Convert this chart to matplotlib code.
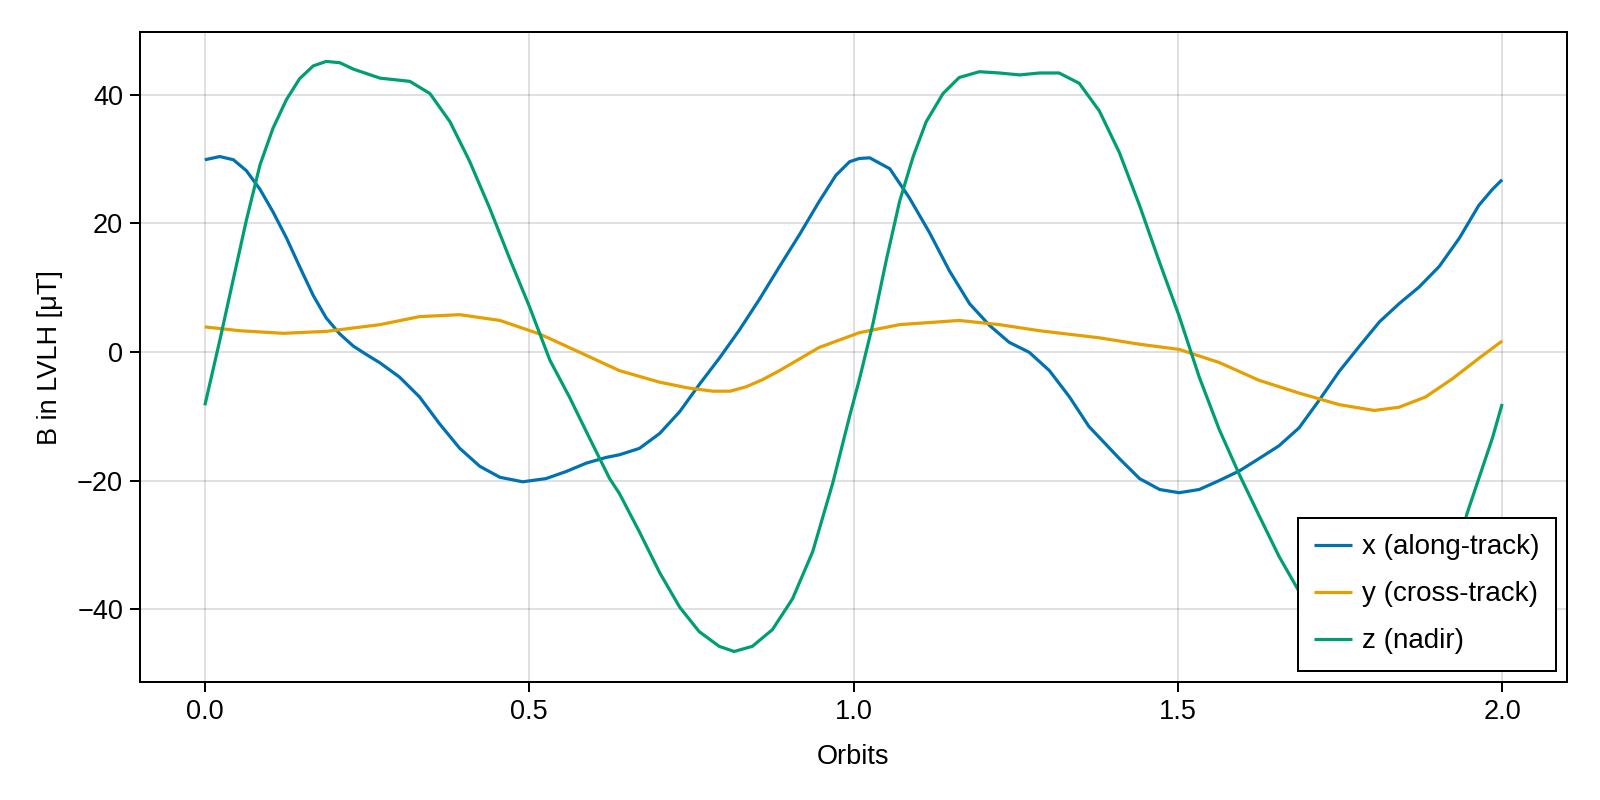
import matplotlib.pyplot as plt

plt.rcParams['font.family'] = ['Liberation Sans', 'DejaVu Sans']

# Field components (orbits, microtesla)
x_orbit = [0.0, 0.023, 0.044, 0.064, 0.085, 0.105, 0.126, 0.146, 0.167, 0.187, 0.208,
           0.229, 0.249, 0.27, 0.3, 0.331, 0.362, 0.393, 0.424, 0.455, 0.49, 0.526,
           0.557, 0.588, 0.619, 0.639, 0.67, 0.701, 0.732, 0.762, 0.793, 0.824, 0.855,
           0.886, 0.917, 0.947, 0.973, 0.994, 1.009, 1.025, 1.056, 1.086, 1.117, 1.148,
           1.179, 1.21, 1.24, 1.271, 1.302, 1.333, 1.363, 1.379, 1.41, 1.441, 1.472,
           1.502, 1.533, 1.564, 1.595, 1.625, 1.656, 1.687, 1.718, 1.749, 1.78, 1.811,
           1.841, 1.872, 1.903, 1.934, 1.964, 1.985, 2.0]
x_field = [29.9, 30.4, 29.9, 28.2, 25.3, 21.8, 17.7, 13.3, 8.8, 5.3, 2.8,
           0.9, -0.4, -1.7, -3.9, -7.0, -11.2, -15.0, -17.8, -19.5, -20.2, -19.7,
           -18.6, -17.3, -16.4, -16.0, -15.0, -12.7, -9.3, -5.1, -1.0, 3.4, 8.2,
           13.3, 18.3, 23.4, 27.5, 29.6, 30.1, 30.2, 28.5, 24.0, 18.6, 12.6,
           7.5, 4.1, 1.5, -0.06, -2.9, -7.0, -11.6, -13.3, -16.6, -19.7, -21.4,
           -21.9, -21.4, -20.0, -18.5, -16.6, -14.6, -11.8, -7.5, -3.0, 0.9, 4.7,
           7.5, 10.1, 13.3, 17.7, 22.8, 25.3, 26.8]

y_orbit = [0.0, 0.054, 0.121, 0.187, 0.27, 0.331, 0.393, 0.455, 0.516, 0.578, 0.639,
           0.701, 0.745, 0.783, 0.81, 0.835, 0.86, 0.886, 0.947, 1.009, 1.071, 1.163,
           1.225, 1.287, 1.379, 1.441, 1.502, 1.564, 1.625, 1.687, 1.749, 1.803, 1.841,
           1.882, 1.923, 1.964, 2.0]
y_field = [3.9, 3.3, 2.9, 3.2, 4.25, 5.5, 5.8, 4.9, 2.8, -0.06, -2.9,
           -4.7, -5.6, -6.1, -6.1, -5.4, -4.3, -2.9, 0.7, 3.0, 4.25, 4.9,
           4.25, 3.3, 2.2, 1.2, 0.4, -1.65, -4.4, -6.4, -8.2, -9.1, -8.6,
           -7.0, -4.2, -1.0, 1.7]

z_orbit = [0.0, 0.023, 0.044, 0.064, 0.085, 0.105, 0.126, 0.146, 0.167, 0.187, 0.208,
           0.229, 0.27, 0.316, 0.347, 0.378, 0.408, 0.439, 0.47, 0.501, 0.532, 0.562,
           0.593, 0.624, 0.639, 0.67, 0.701, 0.732, 0.762, 0.793, 0.816, 0.844, 0.875,
           0.906, 0.937, 0.968, 0.994, 1.009, 1.03, 1.051, 1.071, 1.092, 1.112, 1.138,
           1.163, 1.194, 1.225, 1.256, 1.287, 1.317, 1.348, 1.379, 1.41, 1.441, 1.472,
           1.502, 1.533, 1.564, 1.595, 1.625, 1.656, 1.69, 1.72, 1.75, 1.78, 1.81,
           1.84, 1.87, 1.9, 1.93, 1.946, 1.964, 1.985, 2.0]
z_field = [-8.3, 1.8, 11.4, 20.5, 29.1, 34.8, 39.3, 42.5, 44.5, 45.2, 45.0,
           44.0, 42.6, 42.1, 40.2, 35.8, 29.7, 22.4, 14.5, 6.9, -1.3, -7.0,
           -13.4, -19.7, -22.0, -28.0, -34.3, -39.7, -43.5, -45.8, -46.6, -45.8, -43.2,
           -38.4, -31.1, -20.4, -10.0, -4.3, 4.4, 14.5, 23.4, 30.4, 35.8, 40.2,
           42.7, 43.6, 43.4, 43.1, 43.4, 43.4, 41.8, 37.5, 31.0, 22.8, 13.9,
           5.6, -3.9, -12.1, -19.1, -25.4, -31.8, -37.8, -41.8, -44.5, -46.0, -46.6,
           -46.0, -43.2, -38.4, -31.4, -25.1, -19.7, -13.4, -8.1]

labels = ['x (along-track)', 'y (cross-track)', 'z (nadir)']
colors = ['#0072B2', '#E69F00', '#009E73']

fs = 19.5

fig = plt.figure(figsize=(16, 8), dpi=100)
ax = fig.add_axes([140 / 1600, 1 - 681.7 / 800, 1427 / 1600, 649.2 / 800])

for xs, ys, lab, col in zip([x_orbit, y_orbit, z_orbit], [x_field, y_field, z_field], labels, colors):
    ax.plot(xs, ys, color=col, lw=2.3, label=lab, solid_joinstyle='round', solid_capstyle='butt')

ax.set_xlim(-0.1, 2.1)
ax.set_ylim(-51.3, 49.7)
ax.set_xticks([0.0, 0.5, 1.0, 1.5, 2.0])
ax.set_xticklabels(['0.0', '0.5', '1.0', '1.5', '2.0'])
ax.set_yticks([-40, -20, 0, 20, 40])
ax.set_yticklabels(['\u221240', '\u221220', '0', '20', '40'])
ax.grid(True, color='black', alpha=0.12, lw=1.44)
ax.set_axisbelow(True)
for s in ax.spines.values():
    s.set_linewidth(1.44)
ax.tick_params(direction='out', length=7.2, width=1.44, labelsize=fs, pad=5)

ax.set_xlabel('Orbits', fontsize=fs, labelpad=14)
ax.set_ylabel('B in LVLH [\u03bcT]', fontsize=fs, labelpad=10)

leg = ax.legend(loc='lower right', fontsize=20, frameon=True, fancybox=False,
                edgecolor='black', borderpad=0.58, handlelength=1.35, handletextpad=0.38,
                labelspacing=0.76, borderaxespad=0.4)
leg.get_frame().set_linewidth(1.44)
leg.get_frame().set_alpha(1)

fig.savefig('out.png', dpi=100)
